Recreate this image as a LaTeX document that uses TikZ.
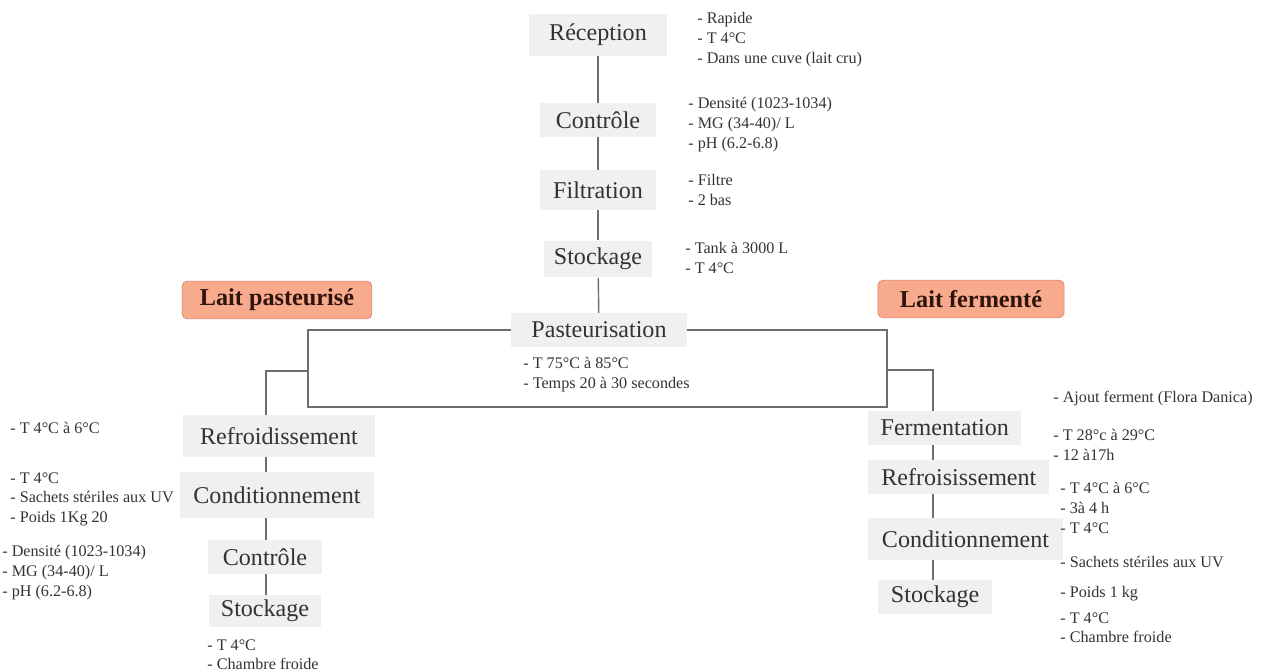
\documentclass[tikz,border=0pt]{standalone}
\usepackage{fontspec}
\setmainfont{Liberation Serif}
\usepackage{xcolor}
\usepackage{tikz}
\usetikzlibrary{positioning, calc}

\definecolor{boxgray}{HTML}{F0F0F0}
\definecolor{textgray}{HTML}{333333}
\definecolor{linegray}{HTML}{6E6E6E}
\definecolor{titlefill}{HTML}{F8AB8C}
\definecolor{titleedge}{HTML}{D9826A}
\definecolor{titletext}{HTML}{2E140C}

\begin{document}
\begin{tikzpicture}[
        x=0.02cm, y=-0.02cm,
        stepbox/.style={rectangle, fill=boxgray, text=textgray, inner sep=0pt, font=\fontsize{13.7}{16}\selectfont},
        title/.style={rectangle, rounded corners=3pt, draw=titleedge, fill=titlefill, text=titletext, inner sep=0pt, font=\bfseries\fontsize{13.8}{16}\selectfont},
        note/.style={anchor=north west, align=left, inner sep=0pt, text=textgray, font=\fontsize{9.2}{11.3}\selectfont},
        link/.style={draw=linegray, line width=0.8pt}
    ]
        \useasboundingbox (0,0) rectangle (1271,672);

        % Common steps
        \node[stepbox, minimum width=78pt, minimum height=24pt] (recep) at (598,35) {Réception};
        \node[stepbox, minimum width=66pt, minimum height=19.5pt] (ctrl) at (598,120) {Contrôle};
        \node[stepbox, minimum width=66pt, minimum height=22.5pt] (filt) at (598,190) {Filtration};
        \node[stepbox, minimum width=62pt, minimum height=21pt] (stock) at (598,259) {Stockage};
        \node[stepbox, minimum width=100pt, minimum height=19pt] (past) at (599,330) {Pasteurisation};

        \node[note] (recepnote) at (697,12) {- Rapide\\- T 4°C\\- Dans une cuve (lait cru)};
        \node[note] (ctrlnote) at (688,97) {- Densité (1023-1034)\\- MG (34-40)/ L\\- pH (6.2-6.8)};
        \node[note] (filtnote) at (688,174) {- Filtre\\- 2 bas};
        \node[note] (stocknote) at (685,242) {- Tank à 3000 L\\- T 4°C};
        \node[note] (pastnote) at (523,357) {- T 75°C à 85°C\\- Temps 20 à 30 secondes};

        \draw[link] (recep) -- (ctrl);
        \draw[link] (ctrl) -- (filt);
        \draw[link] (filt) -- (stock);
        \draw[link] (stock) -- (past);

        % Product titles
        \node[title, minimum width=108pt, minimum height=21.5pt] (lpast) at (277,300) {Lait pasteurisé};
        \node[title, minimum width=106pt, minimum height=21.5pt] (lferm) at (971,299) {Lait fermenté};

        % Loop round the pasteurisation
        \coordinate (loopSW) at (308,407);
        \coordinate (loopSE) at (887,407);
        \draw[link] (past.west) -| (loopSW) -- (loopSE) |- (past.east);

        % Pasteurised milk
        \node[stepbox, minimum width=109pt, minimum height=24pt] (refr) at (279,436) {Refroidissement};
        \node[stepbox, minimum width=110.6pt, minimum height=26pt] (cond) at (277,495) {Conditionnement};
        \node[stepbox, minimum width=65pt, minimum height=19pt] (ctrlL) at (265,557) {Contrôle};
        \node[stepbox, minimum width=64pt, minimum height=18pt] (stockL) at (265,611) {Stockage};

        \node[note] (refrnote) at (10,422) {- T 4°C à 6°C};
        \node[note] (condnote) at (10,472) {- T 4°C\\- Sachets stériles aux UV\\- Poids 1Kg 20};
        \node[note] (ctrlLnote) at (2,545) {- Densité (1023-1034)\\- MG (34-40)/ L\\- pH (6.2-6.8)};
        \node[note] (stockLnote) at (207,639) {- T 4°C\\- Chambre froide};

        \coordinate (forkL) at (308,371);
        \coordinate (spineL) at (266,0);
        \draw[link] (forkL) -| (refr.north -| spineL);
        \draw[link] (refr.south -| spineL) -- (cond.north -| spineL);
        \draw[link] (cond.south -| spineL) -- (ctrlL.north -| spineL);
        \draw[link] (ctrlL.south -| spineL) -- (stockL.north -| spineL);

        % Fermented milk
        \node[stepbox, anchor=west, minimum width=87pt, minimum height=19pt] (ferm) at (868,428) {Fermentation};
        \node[stepbox, anchor=west, minimum width=103pt, minimum height=19pt] (refs) at (868,477) {Refroisissement};
        \node[stepbox, anchor=west, minimum width=110.6pt, minimum height=24pt] (condR) at (868,539) {Conditionnement};
        \node[stepbox, anchor=west, minimum width=64.6pt, minimum height=19pt] (stockR) at (878,597) {Stockage};

        \node[note] (fermnote) at (1053,391) {- Ajout ferment (Flora Danica)};
        \node[note] (tempnote) at (1053,429) {- T 28°c à 29°C\\- 12 à17h};
        \node[note] (refsnote) at (1060,482) {- T 4°C à 6°C\\- 3à 4 h\\- T 4°C};
        \node[note] (sachnote) at (1060,556) {- Sachets stériles aux UV};
        \node[note] (poidsnote) at (1060,586) {- Poids 1 kg};
        \node[note] (stockRnote) at (1060,612) {- T 4°C\\- Chambre froide};

        \coordinate (forkR) at (887,370);
        \coordinate (spineR) at (933,0);
        \draw[link] (forkR) -| (ferm.north -| spineR);
        \draw[link] (ferm.south -| spineR) -- (refs.north -| spineR);
        \draw[link] (refs.south -| spineR) -- (condR.north -| spineR);
        \draw[link] (condR.south -| spineR) -- (stockR.north -| spineR);

    \end{tikzpicture}
\end{document}
